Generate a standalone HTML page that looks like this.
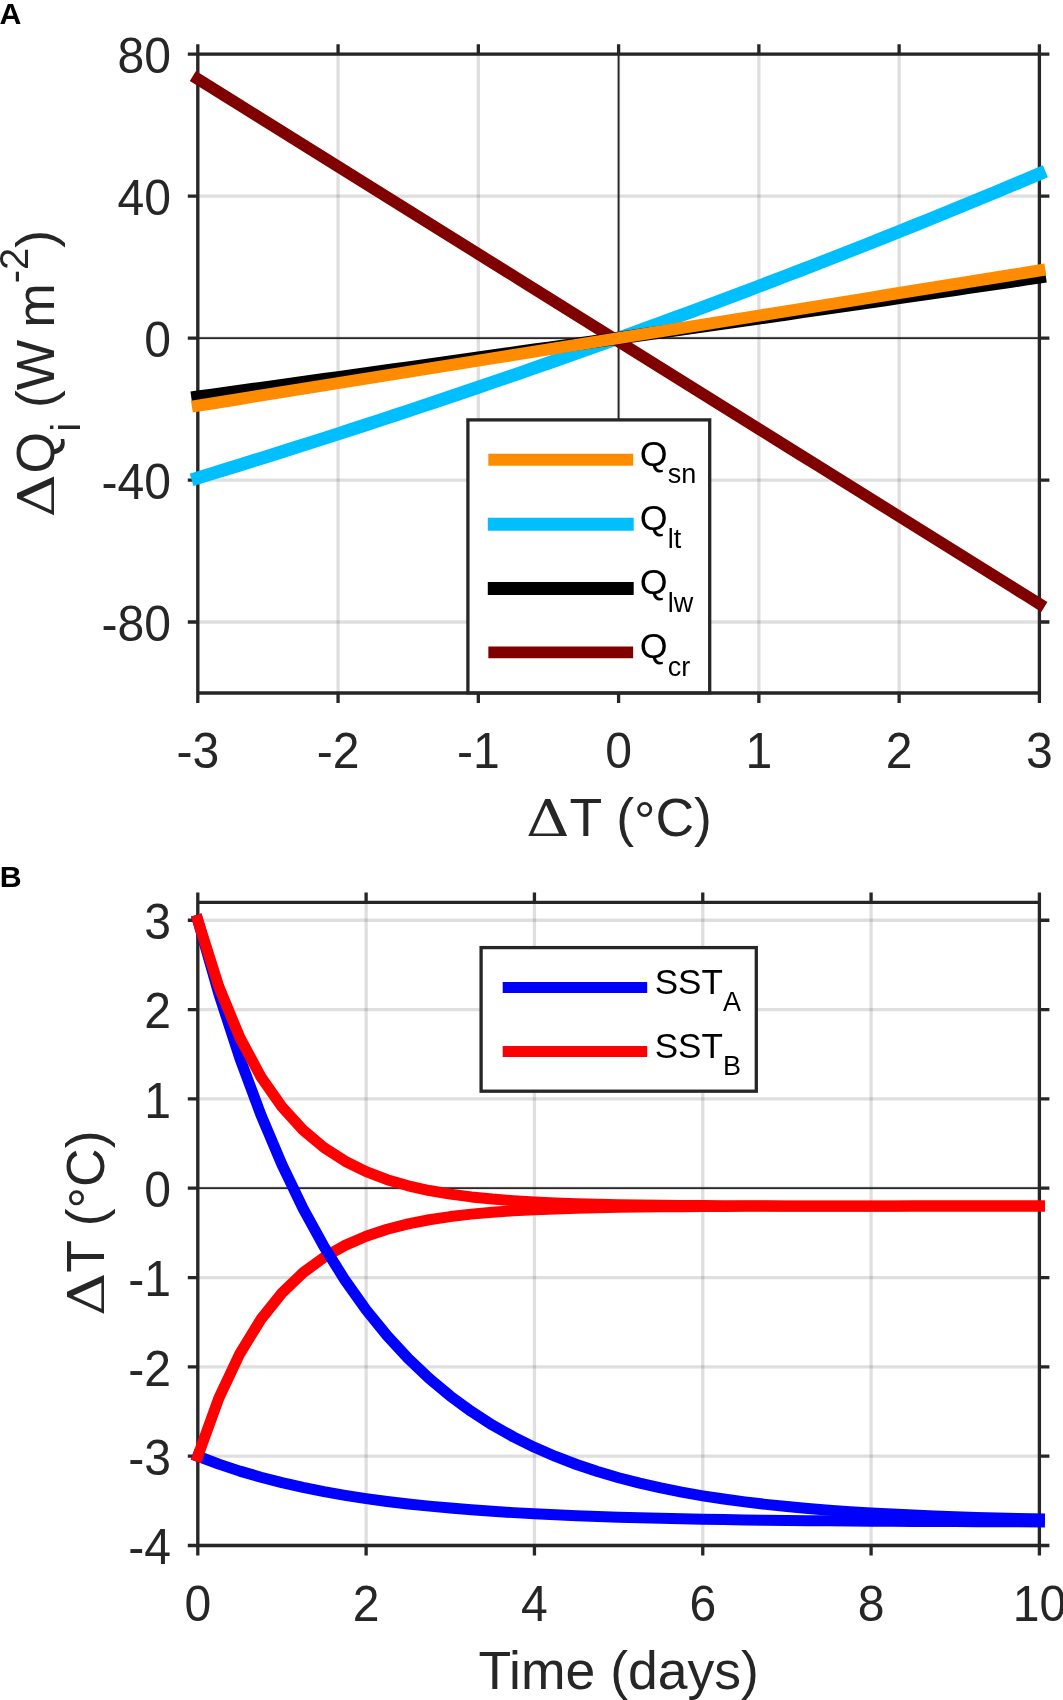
<!DOCTYPE html>
<html lang="en"><head><meta charset="utf-8"><title>Heat flux feedback and SST response</title>
<style>html,body{margin:0;padding:0;background:#fff}body{width:1063px;height:1700px;overflow:hidden}svg{display:block;will-change:transform}text{font-family:"Liberation Sans",Arial,Helvetica,sans-serif}text.dl{font-family:"DejaVu Serif","Liberation Serif",serif}</style>
</head><body>
<svg width="1063" height="1700" viewBox="0 0 1063 1700">
<rect width="1063" height="1700" fill="#fff"/>
<g id="panelA">
<text x="-0.5" y="24.1" font-size="30.3" font-weight="bold" fill="#000">A</text>
<path d="M197.8 54.2V693M338.07 54.2V693M478.33 54.2V693M618.6 54.2V693M758.87 54.2V693M899.13 54.2V693M1039.4 54.2V693" stroke="#262626" stroke-opacity="0.15" stroke-width="3.3" fill="none"/>
<path d="M197.8 54.2H1039.4M197.8 196.16H1039.4M197.8 338.11H1039.4M197.8 480.07H1039.4M197.8 622.02H1039.4" stroke="#262626" stroke-opacity="0.15" stroke-width="3.3" fill="none"/>
<path d="M197.8 54.2H1039.4V693H197.8ZM197.8 693v10M197.8 54.2v-10M338.07 693v10M338.07 54.2v-10M478.33 693v10M478.33 54.2v-10M618.6 693v10M618.6 54.2v-10M758.87 693v10M758.87 54.2v-10M899.13 693v10M899.13 54.2v-10M1039.4 693v10M1039.4 54.2v-10M197.8 54.2h-10M1039.4 54.2h10M197.8 196.16h-10M1039.4 196.16h10M197.8 338.11h-10M1039.4 338.11h10M197.8 480.07h-10M1039.4 480.07h10M197.8 622.02h-10M1039.4 622.02h10" stroke="#262626" stroke-width="3.3" fill="none" stroke-linejoin="miter"/>
<g font-size="48.1" fill="#262626">
<text transform="translate(197.8 768.4) scale(1 1.05)" text-anchor="middle">-3</text>
<text transform="translate(338.07 768.4) scale(1 1.05)" text-anchor="middle">-2</text>
<text transform="translate(478.33 768.4) scale(1 1.05)" text-anchor="middle">-1</text>
<text transform="translate(618.6 768.4) scale(1 1.05)" text-anchor="middle">0</text>
<text transform="translate(758.87 768.4) scale(1 1.05)" text-anchor="middle">1</text>
<text transform="translate(899.13 768.4) scale(1 1.05)" text-anchor="middle">2</text>
<text transform="translate(1039.4 768.4) scale(1 1.05)" text-anchor="middle">3</text>
<text transform="translate(171 73.1) scale(1 1.05)" text-anchor="end">80</text>
<text transform="translate(171 215.06) scale(1 1.05)" text-anchor="end">40</text>
<text transform="translate(171 357.01) scale(1 1.05)" text-anchor="end">0</text>
<text transform="translate(171 498.97) scale(1 1.05)" text-anchor="end">-40</text>
<text transform="translate(171 640.92) scale(1 1.05)" text-anchor="end">-80</text>
</g>
<path d="M197.8 338.11H1039.4M618.6 54.2V693" stroke="#262626" stroke-width="1.8" fill="none"/>
<path d="M197.8 477.94L211.83 473.64L225.85 469.31L239.88 464.95L253.91 460.58L267.93 456.18L281.96 451.75L295.99 447.3L310.01 442.83L324.04 438.34L338.07 433.82L352.09 429.27L366.12 424.7L380.15 420.11L394.17 415.49L408.2 410.85L422.23 406.18L436.25 401.48L450.28 396.76L464.31 392.02L478.33 387.25L492.36 382.45L506.39 377.63L520.41 372.79L534.44 367.91L548.47 363.01L562.49 358.08L576.52 353.13L590.55 348.15L604.57 343.14L618.6 338.11L632.63 333.05L646.65 327.96L660.68 322.85L674.71 317.7L688.73 312.53L702.76 307.33L716.79 302.11L730.81 296.85L744.84 291.57L758.87 286.26L772.89 280.92L786.92 275.55L800.95 270.15L814.97 264.72L829 259.26L843.03 253.78L857.05 248.26L871.08 242.72L885.11 237.14L899.13 231.54L913.16 225.9L927.19 220.23L941.21 214.54L955.24 208.81L969.27 203.05L983.29 197.26L997.32 191.44L1011.35 185.59L1025.37 179.71L1039.4 173.79" stroke="#00bfff" stroke-width="13" fill="none" stroke-linecap="square" stroke-linejoin="round"/>
<path d="M197.8 79.04L211.83 87.79L225.85 96.54L239.88 105.29L253.91 114.03L267.93 122.78L281.96 131.53L295.99 140.28L310.01 149.03L324.04 157.77L338.07 166.52L352.09 175.27L366.12 184.02L380.15 192.77L394.17 201.51L408.2 210.26L422.23 219.01L436.25 227.76L450.28 236.51L464.31 245.25L478.33 254L492.36 262.75L506.39 271.5L520.41 280.25L534.44 288.99L548.47 297.74L562.49 306.49L576.52 315.24L590.55 323.99L604.57 332.73L618.6 341.48L632.63 350.23L646.65 358.98L660.68 367.73L674.71 376.47L688.73 385.22L702.76 393.97L716.79 402.72L730.81 411.47L744.84 420.21L758.87 428.96L772.89 437.71L786.92 446.46L800.95 455.21L814.97 463.95L829 472.7L843.03 481.45L857.05 490.2L871.08 498.95L885.11 507.69L899.13 516.44L913.16 525.19L927.19 533.94L941.21 542.69L955.24 551.43L969.27 560.18L983.29 568.93L997.32 577.68L1011.35 586.43L1025.37 595.17L1039.4 603.92" stroke="#800000" stroke-width="11.6" fill="none" stroke-linecap="square" stroke-linejoin="round"/>
<path d="M197.8 397L211.83 395.07L225.85 393.14L239.88 391.2L253.91 389.27L267.93 387.33L281.96 385.39L295.99 383.45L310.01 381.5L324.04 379.55L338.07 377.6L352.09 375.65L366.12 373.7L380.15 371.74L394.17 369.78L408.2 367.82L422.23 365.85L436.25 363.89L450.28 361.92L464.31 359.95L478.33 357.97L492.36 356L506.39 354.02L520.41 352.04L534.44 350.06L548.47 348.07L562.49 346.08L576.52 344.09L590.55 342.1L604.57 340.11L618.6 338.11L632.63 336.11L646.65 334.11L660.68 332.11L674.71 330.1L688.73 328.09L702.76 326.08L716.79 324.07L730.81 322.05L744.84 320.03L758.87 318.01L772.89 315.99L786.92 313.97L800.95 311.94L814.97 309.91L829 307.88L843.03 305.84L857.05 303.81L871.08 301.77L885.11 299.73L899.13 297.68L913.16 295.64L927.19 293.59L941.21 291.54L955.24 289.48L969.27 287.43L983.29 285.37L997.32 283.31L1011.35 281.25L1025.37 279.18L1039.4 277.12" stroke="#000000" stroke-width="13" fill="none" stroke-linecap="square" stroke-linejoin="round"/>
<path d="M197.8 405.72L211.83 403.46L225.85 401.21L239.88 398.96L253.91 396.7L267.93 394.45L281.96 392.2L295.99 389.94L310.01 387.69L324.04 385.44L338.07 383.18L352.09 380.93L366.12 378.67L380.15 376.42L394.17 374.17L408.2 371.91L422.23 369.66L436.25 367.41L450.28 365.15L464.31 362.9L478.33 360.65L492.36 358.39L506.39 356.14L520.41 353.89L534.44 351.63L548.47 349.38L562.49 347.13L576.52 344.87L590.55 342.62L604.57 340.36L618.6 338.11L632.63 335.86L646.65 333.6L660.68 331.35L674.71 329.1L688.73 326.84L702.76 324.59L716.79 322.34L730.81 320.08L744.84 317.83L758.87 315.58L772.89 313.32L786.92 311.07L800.95 308.82L814.97 306.56L829 304.31L843.03 302.05L857.05 299.8L871.08 297.55L885.11 295.29L899.13 293.04L913.16 290.79L927.19 288.53L941.21 286.28L955.24 284.03L969.27 281.77L983.29 279.52L997.32 277.27L1011.35 275.01L1025.37 272.76L1039.4 270.5" stroke="#ff8c00" stroke-width="12" fill="none" stroke-linecap="square" stroke-linejoin="round"/>
<rect x="467.9" y="419.9" width="241.8" height="272.9" fill="#fff" stroke="#262626" stroke-width="3.3"/>
<path d="M494.3 459.8H627.2" stroke="#ff8c00" stroke-width="12" stroke-linecap="square"/>
<text x="639.8" y="465.8" font-size="35.8" fill="#000">Q<tspan font-size="27" dy="17.6">sn</tspan></text>
<path d="M494.3 524.2H627.2" stroke="#00bfff" stroke-width="13" stroke-linecap="square"/>
<text x="639.8" y="530.2" font-size="35.8" fill="#000">Q<tspan font-size="27" dy="17.6">lt</tspan></text>
<path d="M494.3 588.4H627.2" stroke="#000000" stroke-width="13" stroke-linecap="square"/>
<text x="639.8" y="594.4" font-size="35.8" fill="#000">Q<tspan font-size="27" dy="17.6">lw</tspan></text>
<path d="M494.3 652.4H627.2" stroke="#800000" stroke-width="11.9" stroke-linecap="square"/>
<text x="639.8" y="658.4" font-size="35.8" fill="#000">Q<tspan font-size="27" dy="17.6">cr</tspan></text>
<g transform="translate(0 836.2)" font-size="53.5" fill="#262626">
<text transform="translate(525.9 0) scale(1.186 1)" class="dl" font-size="51.0">Δ</text>
<text x="569.6" y="0">T (<tspan dy="3.3">°</tspan><tspan dy="-3.3">C)</tspan></text>
</g>
<g transform="translate(53.9 0) rotate(-90)" font-size="53.5" fill="#262626">
<text transform="translate(-517.4 0) scale(1.186 1)" class="dl" font-size="51.0">Δ</text>
<text x="-473.43" y="0">Q<tspan font-size="40" dy="25.6">i</tspan><tspan dy="-25.6"> (W </tspan><tspan x="-327.85">m</tspan><tspan font-size="40" dy="-25.5">-2</tspan><tspan dy="25.5">)</tspan></text>
</g>
</g>
<g id="panelB">
<text x="-0.3" y="886.9" font-size="30.3" font-weight="bold" fill="#000">B</text>
<path d="M197.8 902.4V1545.5M366.12 902.4V1545.5M534.44 902.4V1545.5M702.76 902.4V1545.5M871.08 902.4V1545.5M1039.4 902.4V1545.5" stroke="#262626" stroke-opacity="0.15" stroke-width="3.3" fill="none"/>
<path d="M197.8 920.26H1039.4M197.8 1009.58H1039.4M197.8 1098.9H1039.4M197.8 1188.22H1039.4M197.8 1277.54H1039.4M197.8 1366.86H1039.4M197.8 1456.18H1039.4M197.8 1545.5H1039.4" stroke="#262626" stroke-opacity="0.15" stroke-width="3.3" fill="none"/>
<path d="M197.8 902.4H1039.4V1545.5H197.8ZM197.8 1545.5v10M197.8 902.4v-10M366.12 1545.5v10M366.12 902.4v-10M534.44 1545.5v10M534.44 902.4v-10M702.76 1545.5v10M702.76 902.4v-10M871.08 1545.5v10M871.08 902.4v-10M1039.4 1545.5v10M1039.4 902.4v-10M197.8 920.26h-10M1039.4 920.26h10M197.8 1009.58h-10M1039.4 1009.58h10M197.8 1098.9h-10M1039.4 1098.9h10M197.8 1188.22h-10M1039.4 1188.22h10M197.8 1277.54h-10M1039.4 1277.54h10M197.8 1366.86h-10M1039.4 1366.86h10M197.8 1456.18h-10M1039.4 1456.18h10M197.8 1545.5h-10M1039.4 1545.5h10" stroke="#262626" stroke-width="3.3" fill="none" stroke-linejoin="miter"/>
<g font-size="48.1" fill="#262626">
<text transform="translate(197.8 1620.9) scale(1 1.05)" text-anchor="middle">0</text>
<text transform="translate(366.12 1620.9) scale(1 1.05)" text-anchor="middle">2</text>
<text transform="translate(534.44 1620.9) scale(1 1.05)" text-anchor="middle">4</text>
<text transform="translate(702.76 1620.9) scale(1 1.05)" text-anchor="middle">6</text>
<text transform="translate(871.08 1620.9) scale(1 1.05)" text-anchor="middle">8</text>
<text transform="translate(1039.4 1620.9) scale(1 1.05)" text-anchor="middle">10</text>
<text transform="translate(171 939.16) scale(1 1.05)" text-anchor="end">3</text>
<text transform="translate(171 1028.48) scale(1 1.05)" text-anchor="end">2</text>
<text transform="translate(171 1117.8) scale(1 1.05)" text-anchor="end">1</text>
<text transform="translate(171 1207.12) scale(1 1.05)" text-anchor="end">0</text>
<text transform="translate(171 1296.44) scale(1 1.05)" text-anchor="end">-1</text>
<text transform="translate(171 1385.76) scale(1 1.05)" text-anchor="end">-2</text>
<text transform="translate(171 1475.08) scale(1 1.05)" text-anchor="end">-3</text>
<text transform="translate(171 1564.4) scale(1 1.05)" text-anchor="end">-4</text>
</g>
<path d="M197.8 1188.22H1039.4" stroke="#262626" stroke-width="1.8" fill="none"/>
<path d="M197.8 1456.18L218.84 1464.13L239.88 1471.13L260.92 1477.28L281.96 1482.7L303 1487.46L324.04 1491.65L345.08 1495.34L366.12 1498.58L387.16 1501.43L408.2 1503.94L429.24 1506.14L450.28 1508.09L471.32 1509.79L492.36 1511.3L513.4 1512.62L534.44 1513.78L555.48 1514.8L576.52 1515.7L597.56 1516.49L618.6 1517.19L639.64 1517.8L660.68 1518.34L681.72 1518.81L702.76 1519.23L723.8 1519.6L744.84 1519.92L765.88 1520.2L786.92 1520.45L807.96 1520.67L829 1520.87L850.04 1521.03L871.08 1521.18L892.12 1521.32L913.16 1521.43L934.2 1521.53L955.24 1521.62L976.28 1521.7L997.32 1521.77L1018.36 1521.83L1039.4 1521.89" stroke="#0000ff" stroke-width="11" fill="none" stroke-linecap="square" stroke-linejoin="round"/>
<path d="M197.8 1456.18L218.84 1398.1L239.88 1353.51L260.92 1319.27L281.96 1292.99L303 1272.8L324.04 1257.31L345.08 1245.41L366.12 1236.28L387.16 1229.27L408.2 1223.88L429.24 1219.75L450.28 1216.58L471.32 1214.14L492.36 1212.27L513.4 1210.83L534.44 1209.73L555.48 1208.89L576.52 1208.24L597.56 1207.74L618.6 1207.35L639.64 1207.06L660.68 1206.83L681.72 1206.66L702.76 1206.53L723.8 1206.42L744.84 1206.35L765.88 1206.29L786.92 1206.24L807.96 1206.2L829 1206.18L850.04 1206.16L871.08 1206.14L892.12 1206.13L913.16 1206.12L934.2 1206.11L955.24 1206.1L976.28 1206.1L997.32 1206.1L1018.36 1206.09L1039.4 1206.09" stroke="#ff0000" stroke-width="11" fill="none" stroke-linecap="square" stroke-linejoin="round"/>
<path d="M197.8 920.26L218.84 993.76L239.88 1058.29L260.92 1114.93L281.96 1164.67L303 1208.33L324.04 1246.66L345.08 1280.31L366.12 1309.85L387.16 1335.78L408.2 1358.55L429.24 1378.54L450.28 1396.09L471.32 1411.49L492.36 1425.02L513.4 1436.89L534.44 1447.32L555.48 1456.47L576.52 1464.5L597.56 1471.56L618.6 1477.75L639.64 1483.19L660.68 1487.96L681.72 1492.15L702.76 1495.83L723.8 1499.06L744.84 1501.89L765.88 1504.38L786.92 1506.56L807.96 1508.48L829 1510.17L850.04 1511.65L871.08 1512.94L892.12 1514.08L913.16 1515.08L934.2 1515.96L955.24 1516.73L976.28 1517.41L997.32 1518L1018.36 1518.53L1039.4 1518.98" stroke="#0000ff" stroke-width="11" fill="none" stroke-linecap="square" stroke-linejoin="round"/>
<path d="M197.8 920.26L218.84 986.7L239.88 1037.7L260.92 1076.84L281.96 1106.88L303 1129.94L324.04 1147.64L345.08 1161.23L366.12 1171.65L387.16 1179.66L408.2 1185.8L429.24 1190.52L450.28 1194.14L471.32 1196.91L492.36 1199.05L513.4 1200.68L534.44 1201.94L555.48 1202.9L576.52 1203.64L597.56 1204.21L618.6 1204.65L639.64 1204.98L660.68 1205.24L681.72 1205.44L702.76 1205.59L723.8 1205.7L744.84 1205.79L765.88 1205.86L786.92 1205.91L807.96 1205.95L829 1205.98L850.04 1206.01L871.08 1206.03L892.12 1206.04L913.16 1206.05L934.2 1206.06L955.24 1206.07L976.28 1206.07L997.32 1206.07L1018.36 1206.08L1039.4 1206.08" stroke="#ff0000" stroke-width="11" fill="none" stroke-linecap="square" stroke-linejoin="round"/>
<rect x="481.1" y="947.6" width="275.2" height="143.6" fill="#fff" stroke="#262626" stroke-width="3.3"/>
<path d="M508.2 987.5H641.7" stroke="#0000ff" stroke-width="11" stroke-linecap="square"/>
<text x="654.7" y="993.6" font-size="35.1" fill="#000">SST<tspan font-size="27" dy="17.2">A</tspan></text>
<path d="M508.2 1051.4H641.7" stroke="#ff0000" stroke-width="11" stroke-linecap="square"/>
<text x="654.7" y="1057.5" font-size="35.1" fill="#000">SST<tspan font-size="27" dy="17.2">B</tspan></text>
<text x="618.6" y="1688.7" font-size="53.5" fill="#262626" text-anchor="middle">Time (days)</text>
<g transform="translate(104 0) rotate(-90)" font-size="53.5" fill="#262626">
<text transform="translate(-1316 0) scale(1.186 1)" class="dl" font-size="51.0">Δ</text>
<text x="-1272.8" y="0">T (<tspan dy="3.3">°</tspan><tspan dy="-3.3">C)</tspan></text>
</g>
</g>
</svg></body></html>
